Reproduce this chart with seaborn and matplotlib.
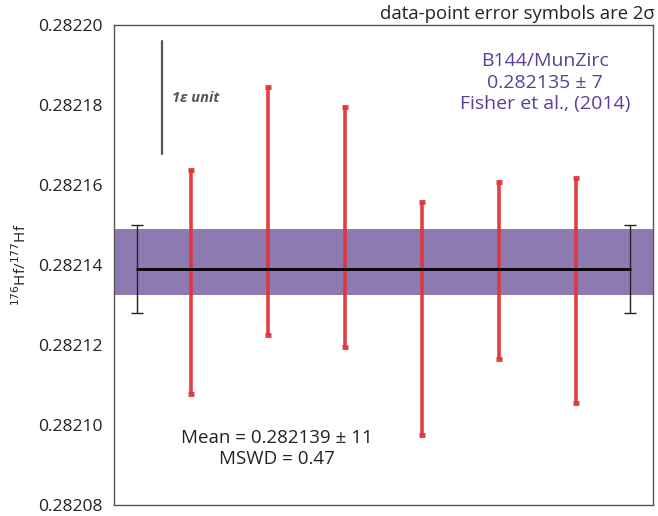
import matplotlib
matplotlib.use("Agg")
import matplotlib.pyplot as plt
import seaborn as sns
import numpy as np
import pandas as pd
from matplotlib.ticker import MultipleLocator, FormatStrFormatter

# ---- data ----
spot = [1, 2, 3, 4, 5, 6]
ratio = [0.2821357, 0.2821536, 0.2821496, 0.2821266, 0.2821386, 0.2821336]
err2s = [0.0000280, 0.0000310, 0.0000300, 0.0000291, 0.0000221, 0.0000281]

mean_val = 0.282139
mean_err = 0.000011
mean_x = [0.3, 6.7]

ref_low = 0.2821325
ref_high = 0.2821490

eps_x = 0.62
eps_top = 0.282196
eps_len = 0.0000282

y_ticks = [0.28208, 0.28210, 0.28212, 0.28214, 0.28216, 0.28218, 0.28220]

sns.set_style("white")
plt.rcParams['font.family'] = ['Open Sans', 'DejaVu Sans']

fig = plt.figure(figsize=(6.58, 5.16), dpi=100)
ax = fig.add_axes([114/658, 1-505/516, (653-114)/658, (505-25)/516])

df = pd.DataFrame({"spot": spot, "ratio": ratio, "err": err2s})

# reference band
ax.axhspan(ref_low, ref_high, color="#8c7ab0", zorder=1, lw=0)

# data-point error bars
ax.errorbar(df["spot"], df["ratio"], yerr=df["err"], fmt="none",
            ecolor="#e0343a", elinewidth=2.6, capsize=2.2, capthick=3.5,
            zorder=3, alpha=0.95)

# weighted mean line with error bars at the ends
mdf = pd.DataFrame({"x": mean_x, "y": [mean_val, mean_val]})
sns.lineplot(data=mdf, x="x", y="y", ax=ax, color="black", lw=2.0, zorder=4)
ax.errorbar(mean_x, [mean_val, mean_val], yerr=mean_err, fmt="none",
            ecolor="#222222", elinewidth=1.0, capsize=4, capthick=1.0, zorder=4)

# 1 epsilon unit scale bar
ax.plot([eps_x, eps_x], [eps_top, eps_top - eps_len], color="#555555", lw=1.6, zorder=2)
ax.text(eps_x + 0.13, eps_top - 0.0000143, "1ε unit", fontsize=10.5, fontweight="bold",
        fontstyle="italic", color="#555555", ha="left", va="center")

# annotations
ax.text(5.6, 0.2821856, "B144/MunZirc\n0.282135 ± 7\nFisher et al., (2014)",
        ha="center", va="center", color="#5b3f96", fontsize=14, linespacing=1.25)
ax.text(2.12, 0.2820942, "Mean = 0.282139 ± 11\nMSWD = 0.47", ha="center", va="center",
        color="#222222", fontsize=13.5, linespacing=1.2)
fig.text(655/658, 1-14/516, "data-point error symbols are 2σ", ha="right", va="center",
         fontsize=13.3, color="#222222")

ax.set_xlim(0, 7)
ax.set_ylim(0.28208, 0.28220)
ax.set_yticks(y_ticks)
ax.yaxis.set_major_formatter(FormatStrFormatter("%.5f"))
ax.yaxis.set_minor_locator(MultipleLocator(0.00001))
ax.set_xticks([])
ax.tick_params(axis="y", which="both", direction="in", length=4, width=1,
               color="#444444", labelsize=12.6, labelcolor="#222222", pad=8)
ax.set_xlabel("")
ax.set_ylabel(r"$^{176}$Hf/$^{177}$Hf", fontsize=11, color="#222222", labelpad=6)
for s in ax.spines.values():
    s.set_color("#555555")
    s.set_linewidth(1.0)
    s.set_visible(True)

fig.savefig("out.png", dpi=100)
